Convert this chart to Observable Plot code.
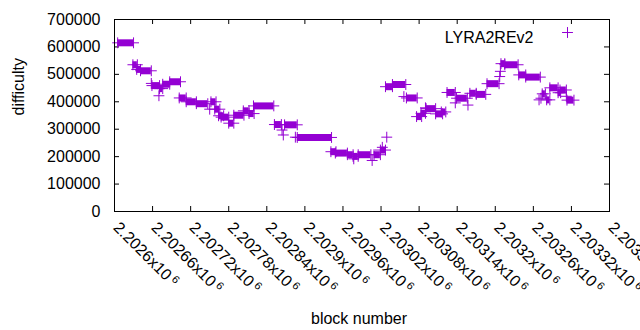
<!DOCTYPE html>
<html>
<head>
<meta charset="utf-8">
<script src="https://cdn.jsdelivr.net/npm/d3@7"></script>
<script src="https://cdn.jsdelivr.net/npm/@observablehq/plot@0.6"></script>
<style>
  html, body { margin: 0; padding: 0; background: #fff; }
  #chart svg { display: block; }
</style>
</head>
<body>
<div id="chart"></div>
<script>
// Runs of consecutive blocks sharing the same difficulty (start block, end block, difficulty)
const runStart = [2202605, 2202629, 2202635, 2202641, 2202659, 2202671, 2202676, 2202687, 2202702, 2202713,
  2202729, 2202752, 2202758, 2202764, 2202768, 2202780, 2202788, 2202803, 2202812, 2202819,
  2202852, 2202868, 2202888, 2202941, 2202948, 2202967, 2202976, 2202984, 2203009, 2203019,
  2203027, 2203038, 2203060, 2203076, 2203083, 2203091, 2203106, 2203115, 2203124, 2203139,
  2203160, 2203170, 2203187, 2203209, 2203215, 2203237, 2203248, 2203274, 2203281, 2203286,
  2203299, 2203302, 2203313];
const runEnd = [2202630, 2202636, 2202641, 2202658, 2202671, 2202676, 2202687, 2202704, 2202713, 2202729,
  2202747, 2202760, 2202766, 2202772, 2202780, 2202788, 2202804, 2202812, 2202820, 2202851,
  2202863, 2202888, 2202942, 2202949, 2202967, 2202976, 2202984, 2203004, 2203019, 2203027,
  2203038, 2203059, 2203077, 2203084, 2203090, 2203106, 2203117, 2203122, 2203137, 2203156,
  2203170, 2203185, 2203206, 2203215, 2203236, 2203248, 2203271, 2203279, 2203286, 2203299,
  2203303, 2203312, 2203324];
const runDifficulty = [615000, 535000, 518000, 513000, 459000, 448000, 464000, 473000, 414000, 400000,
  393000, 400000, 373000, 349000, 344000, 322000, 351000, 367000, 357000, 385000,
  317000, 316000, 270000, 218000, 213000, 207000, 201000, 207000, 207000, 224000,
  455000, 463000, 414000, 346000, 358000, 375000, 356000, 363000, 434000, 413000,
  431000, 427000, 466000, 539000, 535000, 498000, 490000, 429000, 407000, 451000,
  433000, 443000, 406000];

// Isolated blocks
const pointBlock = [2202658, 2202670, 2202750, 2202864, 2202866, 2202885, 2202977, 2203006, 2203022, 2203029,
  2203056, 2203090, 2203137, 2203157, 2203207, 2203208, 2203269, 2203272, 2203312];
const pointDifficulty = [467000, 422000, 373000, 297000, 279000, 271000, 192000, 186000, 234000, 271000,
  419000, 378000, 396000, 388000, 492000, 511000, 407000, 413000, 420000];

const xTicks = d3.range(2202600, 2203381, 60);
const yTicks = [0, 100000, 200000, 300000, 400000, 500000, 600000, 700000];
const seriesName = "LYRA2REv2";
const xTitle = "block number";
const yTitle = "difficulty";

const runs = runStart.map((s, i) => ({s, e: runEnd[i], d: runDifficulty[i]}));
const ends = runs.flatMap(r => [{b: r.s, d: r.d}, {b: r.e, d: r.d}]);
const points = pointBlock.map((b, i) => ({b, d: pointDifficulty[i]}));

const color = "#9400d3";
const fmtX = v => (v / 1e6).toFixed(5).replace(/0+$/, "").replace(/\.$/, "");
const W = 640, H = 330, ML = 114, MR = 31, MT = 19, MB = 119, TICK = 5;
const frameW = W - ML - MR, frameH = H - MT - MB;

const chart = Plot.plot({
  width: W,
  height: H,
  marginLeft: ML,
  marginRight: MR,
  marginTop: MT,
  marginBottom: MB,
  style: {fontFamily: "'Liberation Sans', Arial, sans-serif", fontSize: "16px", color: "#000", background: "#fff"},
  x: {domain: [2202600, 2203380]},
  y: {domain: [0, 700000]},
  marks: [
    // inward ticks on all four sides
    Plot.tickX(xTicks, {x: d => d, insetTop: frameH - TICK, stroke: "#000"}),
    Plot.tickX(xTicks, {x: d => d, insetBottom: frameH - TICK, stroke: "#000"}),
    Plot.tickY(yTicks, {y: d => d, insetRight: frameW - TICK, stroke: "#000"}),
    Plot.tickY(yTicks, {y: d => d, insetLeft: frameW - TICK, stroke: "#000"}),
    Plot.ruleY(runs, {y: "d", x1: "s", x2: "e", stroke: color, strokeWidth: 7}),
    Plot.dot(ends, {x: "b", y: "d", symbol: "plus", r: 3.6, stroke: color, strokeWidth: 1}),
    Plot.dot(points, {x: "b", y: "d", symbol: "plus", r: 3.6, stroke: color, strokeWidth: 1}),
    Plot.axisX({anchor: "bottom", ticks: xTicks, tickSize: 0, tickPadding: 9, dx: 6, tickFormat: v => fmtX(v) + "x10",
      tickRotate: 45, textAnchor: "start", lineAnchor: "top", label: null, fontSize: 16}),
    Plot.axisY({anchor: "left", ticks: yTicks, tickSize: 0, tickPadding: 14, tickFormat: d => String(d), label: null, fontSize: 16}),
    Plot.frame({stroke: "#000"}),
    Plot.text([yTitle], {text: d => d, frameAnchor: "left", dx: -96, rotate: -90, fontSize: 16}),
    Plot.text([xTitle], {text: d => d, frameAnchor: "bottom", dy: 112, dx: -3, fontSize: 16}),
    Plot.text([seriesName], {text: d => d, frameAnchor: "top-right", textAnchor: "end", dx: -76, dy: 12, fontSize: 16}),
    Plot.dot([seriesName], {frameAnchor: "top-right", dx: -42, dy: 13, symbol: "plus", r: 3.6, stroke: color, strokeWidth: 1})
  ]
});
document.getElementById("chart").appendChild(chart);

// superscript exponent on bottom x tick labels
d3.select(chart).selectAll("g[aria-label='x-axis tick label'] text").each(function() {
  if (/x10$/.test(this.textContent)) {
    d3.select(this).append("tspan").attr("font-size", "11px").attr("dx", "3").attr("dy", "-0.45em").text("6");
  }
});
</script>
</body>
</html>
